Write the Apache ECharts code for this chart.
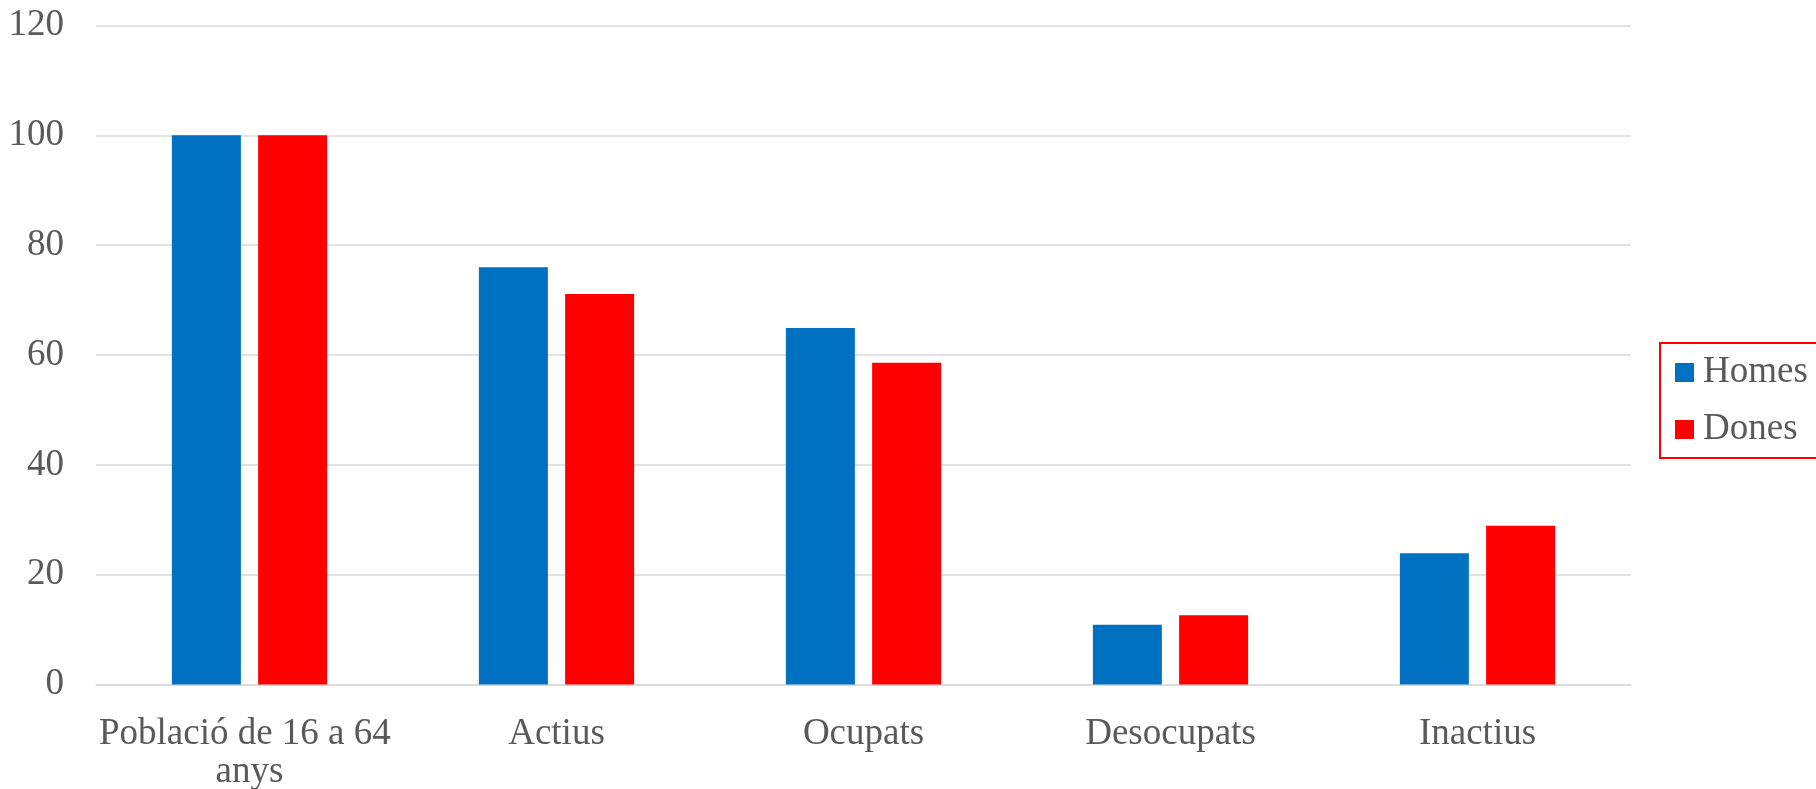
<!DOCTYPE html>
<html>
<head>
<meta charset="utf-8">
<script src="https://cdn.jsdelivr.net/npm/echarts@6/dist/echarts.min.js"></script>
<style>
html,body{margin:0;padding:0;background:#fff;}
#chart{width:1816px;height:789px;}
</style>
</head>
<body>
<div id="chart"></div>
<script>
const categories = ["Població de 16 a 64 anys", "Actius", "Ocupats", "Desocupats", "Inactius"];
const homes = [100, 76.0, 64.9, 10.9, 23.9];
const dones = [100, 71.1, 58.6, 12.6, 28.9];
const seriesNames = ["Homes", "Dones"];
const yTicks = { min: 0, max: 120, interval: 20 };

const FONT = '"Liberation Serif", "Times New Roman", serif';
const chart = echarts.init(document.getElementById('chart'));
chart.setOption({
  animation: false,
  backgroundColor: '#ffffff',
  grid: { left: 96, right: 185, top: 25.5, bottom: 104.5, containLabel: false, outerBoundsMode: 'none' },
  legend: {
    orient: 'vertical',
    left: 1660,
    top: 343,
    data: seriesNames,
    icon: 'rect',
    itemWidth: 19,
    itemHeight: 19,
    itemGap: 20,
    padding: [11, 15, 10, 15],
    borderColor: '#ff0000',
    borderWidth: 2,
    textStyle: { fontFamily: FONT, fontSize: 37, color: '#595959', padding: [0, 0, 0, 4] }
  },
  xAxis: {
    type: 'category',
    data: categories,
    axisTick: { show: false },
    axisLine: { show: true, lineStyle: { color: '#d9d9d9', width: 1.5 } },
    axisLabel: {
      interval: 0,
      margin: 31,
      width: 340,
      overflow: 'break',
      lineHeight: 38,
      fontFamily: FONT,
      fontSize: 37,
      color: '#595959'
    }
  },
  yAxis: {
    type: 'value',
    min: yTicks.min,
    max: yTicks.max,
    interval: yTicks.interval,
    axisLine: { show: false },
    axisTick: { show: false },
    splitLine: { lineStyle: { color: '#d9d9d9', width: 1.5 } },
    axisLabel: { margin: 32, fontFamily: FONT, fontSize: 37, color: '#595959' }
  },
  series: [
    { name: seriesNames[0], type: 'bar', data: homes, barWidth: 69, barGap: '25%', itemStyle: { color: '#0070C0' } },
    { name: seriesNames[1], type: 'bar', data: dones, barWidth: 69, barGap: '25%', itemStyle: { color: '#FF0000' } }
  ]
});
</script>
</body>
</html>
